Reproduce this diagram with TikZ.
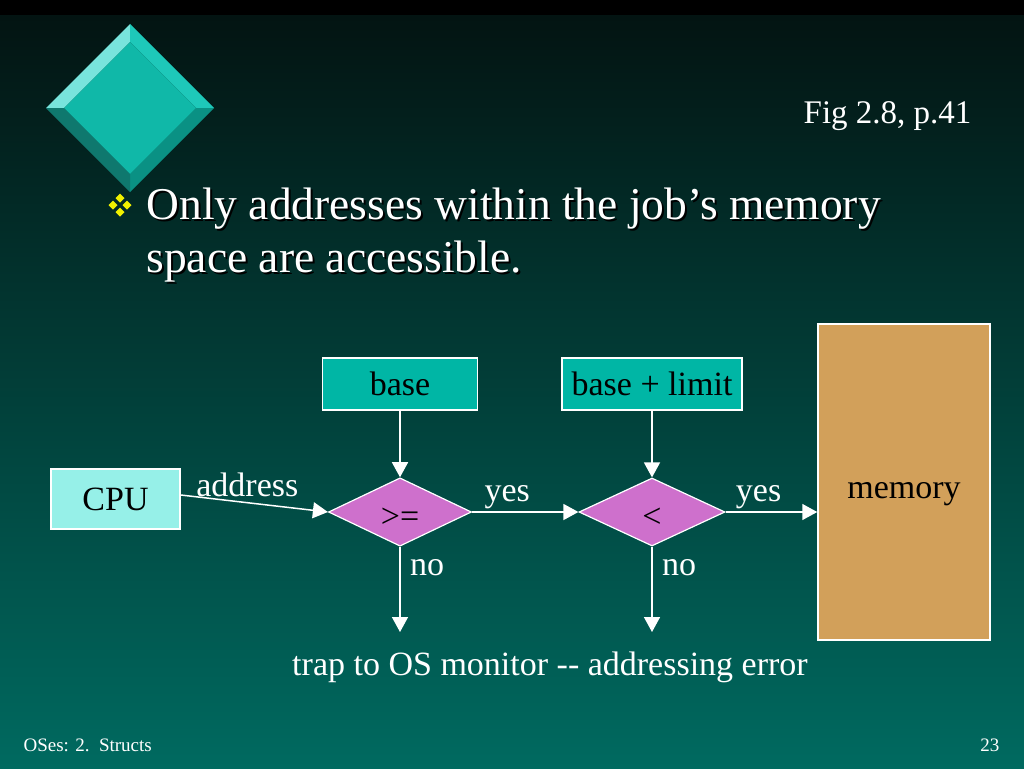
\documentclass[tikz,border=0pt]{standalone}
\usepackage{fontspec}
\setmainfont{Liberation Serif}
\usetikzlibrary{shapes.geometric,arrows.meta}

\definecolor{bgtop}{RGB}{3,20,18}
\definecolor{bgbot}{RGB}{0,106,96}
\definecolor{cpufill}{RGB}{150,240,232}
\definecolor{regfill}{RGB}{0,182,165}
\definecolor{testfill}{RGB}{206,112,204}
\definecolor{memfill}{RGB}{210,160,90}
\definecolor{gemmid}{RGB}{16,184,168}
\definecolor{gemlight}{RGB}{120,228,220}
\definecolor{gemright}{RGB}{30,200,185}
\definecolor{gemdark}{RGB}{15,120,110}
\definecolor{gemlow}{RGB}{10,145,132}
\definecolor{bulletyellow}{RGB}{240,240,0}

\begin{document}
\begin{tikzpicture}[x=1pt,y=-1pt,
    box/.style={draw=white,line width=1.5pt,inner sep=0pt,text=black,
      font=\fontsize{34}{38}\selectfont},
    test/.style={diamond,draw=white,line width=1.2pt,fill=testfill,inner sep=0pt,
      text=black,font=\fontsize{34}{38}\selectfont},
    flow/.style={draw=white,line width=1.5pt,-{Triangle[width=16pt,length=15pt]}},
    lbl/.style={text=white,font=\fontsize{34}{38}\selectfont}]
  % Background and top bar
  \useasboundingbox (0,0) rectangle (1024,768);
  \fill[black] (0,0) rectangle (1024,16);
  \shade[top color=bgtop,bottom color=bgbot] (0,16) rectangle (1024,768);

  % Draw the bevelled gem in the corner
  \fill[gemlight] (46,108) -- (130,24) -- (130,42) -- (64,108) -- cycle;
  \fill[gemright] (130,24) -- (214,108) -- (196,108) -- (130,42) -- cycle;
  \fill[gemlow] (214,108) -- (130,192) -- (130,174) -- (196,108) -- cycle;
  \fill[gemdark] (130,192) -- (46,108) -- (64,108) -- (130,174) -- cycle;
  \fill[gemmid] (130,42) -- (196,108) -- (130,174) -- (64,108) -- cycle;

  % Fig reference
  \node[anchor=base east,text=white,font=\fontsize{33}{36}\selectfont] (fig) at (975,123) {Fig 2.8, p.41};

  % Draw the bullet
  \foreach \x/\y in {120/198, 113/205, 127/205, 120/212}{
    \fill[bulletyellow] (\x,\y-4.5) -- (\x+4.5,\y) -- (\x,\y+4.5) -- (\x-4.5,\y) -- cycle;
  }
  % Title with its shadow
  \foreach \dx/\col in {2/black, 0/white}{
    \node[anchor=base west,text=\col,font=\fontsize{45.5}{53}\selectfont] (title1) at (143+\dx,219+\dx) {Only addresses within the job’s memory};
    \node[anchor=base west,text=\col,font=\fontsize{45.5}{53}\selectfont] (title2) at (143+\dx,272+\dx) {space are accessible.};
  }

  % Boxes
  \node[box,fill=cpufill,minimum width=129pt,minimum height=60pt] (cpu) at (115.5,499) {CPU};
  \node[box,fill=regfill,minimum width=155pt,minimum height=52pt] (base) at (400,384) {base};
  \node[box,fill=regfill,minimum width=180pt,minimum height=52pt] (limit) at (652,384) {base + limit};
  \node[box,fill=memfill,minimum width=172pt,minimum height=316pt,text height=41pt] (mem) at (904,482) {memory};

  % The two tests
  \node[test,minimum width=143pt,minimum height=68pt,text height=30pt] (ge) at (400,512) {>=};
  \node[test,minimum width=146pt,minimum height=68pt,text height=30pt] (lt) at (652,512) {<};

  % Free ends of the error arrows
  \coordinate (trapa) at (400,632);
  \coordinate (trapb) at (652,632);

  % Draw the arrows
  \draw[flow] ([yshift=4pt]cpu.east) -- (ge.west) node[lbl,midway,above=3pt,xshift=-7pt] (addr) {address};
  \draw[flow] (base.south) -- (ge.north);
  \draw[flow] (limit.south) -- (lt.north);
  \draw[flow] (ge.east) -- (lt.west) node[lbl,pos=0.33,above=-1pt] (yesa) {yes};
  \draw[flow] (lt.east) -- (lt.east -| mem.west) node[lbl,pos=0.36,above=-1pt] (yesb) {yes};
  \draw[flow] (ge.south) -- (trapa) node[lbl,pos=0.25,right=6pt] (noa) {no};
  \draw[flow] (lt.south) -- (trapb) node[lbl,pos=0.25,right=6pt] (nob) {no};

  \node[lbl] (trap) at (550,667) {trap to OS monitor {-}{-} addressing error};

  % Footer
  \node[anchor=base west,text=white,font=\fontsize{19}{22}\selectfont] (foot) at (20,751) {OSes: 2.\ \ Structs};
  \node[anchor=base east,text=white,font=\fontsize{19}{22}\selectfont] (page) at (1003,751) {23};
\end{tikzpicture}
\end{document}
